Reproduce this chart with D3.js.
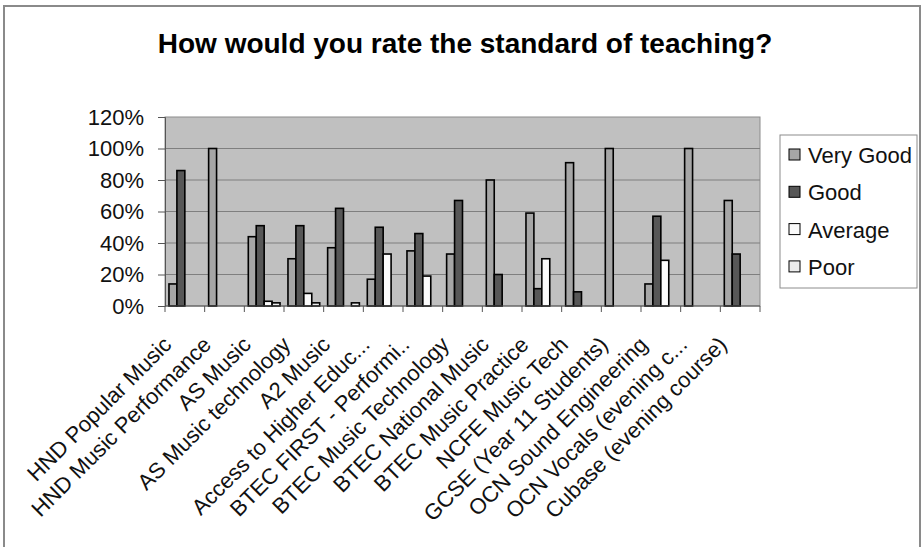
<!DOCTYPE html>
<html>
<head>
<meta charset="utf-8">
<script src="https://cdn.jsdelivr.net/npm/d3@7"></script>
<style>
  body { margin: 0; background: #fff; }
  svg { display: block; font-family: Arial, "Liberation Sans", sans-serif; }
</style>
</head>
<body>
<svg id="chart" width="924" height="547"></svg>
<script>
// categories (x axis) and the four rating series, in percent
const courses = [
  "HND Popular Music", "HND Music Performance", "AS Music", "AS Music technology",
  "A2 Music", "Access to Higher Educ...", "BTEC FIRST - Performi..", "BTEC Music Technology",
  "BTEC National Music", "BTEC Music Practice", "NCFE Music Tech", "GCSE (Year 11 Students)",
  "OCN Sound Engineering", "OCN Vocals (evening c...", "Cubase (evening course)"
];
const ratings = ["Very Good", "Good", "Average", "Poor"];
const veryGood = [14, 100, 44, 30, 37, 17, 35, 33, 80, 59, 91, 100, 14, 100, 67];
const good     = [86, 0, 51, 51, 62, 50, 46, 67, 20, 11, 9, 0, 57, 0, 33];
const average  = [0, 0, 3, 8, 0, 33, 19, 0, 0, 30, 0, 0, 29, 0, 0];
const poor     = [0, 0, 2, 2, 2, 0, 0, 0, 0, 0, 0, 0, 0, 0, 0];
const yTicks = [0, 20, 40, 60, 80, 100, 120];

const series = [veryGood, good, average, poor];
const colours = ["#a6a6a6", "#575757", "#fbfbfb", "#ececec"];

const svg = d3.select("#chart");
const plot = { left: 165, right: 760, top: 117, bottom: 306 };

// outer chart frame
svg.append("rect")
  .attr("x", 4).attr("y", 6).attr("width", 916).attr("height", 560)
  .attr("fill", "#fff").attr("stroke", "#8a8a8a").attr("stroke-width", 2);

svg.append("text")
  .attr("x", 465).attr("y", 53)
  .attr("text-anchor", "middle")
  .attr("font-size", 28).attr("font-weight", "bold")
  .text("How would you rate the standard of teaching?");

const x = d3.scaleBand().domain(courses).range([plot.left, plot.right]).paddingInner(0).paddingOuter(0);
// gap width 100%: half a bar of space on each side of a group
const xInner = d3.scaleBand().domain(ratings).range([0, x.bandwidth()]).paddingOuter(0.5);
const y = d3.scaleLinear().domain([0, 120]).range([plot.bottom, plot.top]);

svg.append("rect")
  .attr("x", plot.left).attr("y", plot.top)
  .attr("width", plot.right - plot.left).attr("height", plot.bottom - plot.top)
  .attr("fill", "#c0c0c0").attr("stroke", "#8c8c8c");

// gridlines
svg.append("g")
  .selectAll("line")
  .data(yTicks.filter(d => d > 0 && d < 120))
  .join("line")
  .attr("x1", plot.left).attr("x2", plot.right)
  .attr("y1", d => y(d)).attr("y2", d => y(d))
  .attr("stroke", "#7f7f7f");

// bars
const groups = svg.append("g")
  .selectAll("g")
  .data(courses)
  .join("g")
  .attr("transform", d => `translate(${x(d)},0)`);

groups.selectAll("rect")
  .data((d, i) => series.map((s, k) => ({ rating: ratings[k], value: s[i], k })).filter(b => b.value > 0))
  .join("rect")
  .attr("x", b => xInner(b.rating))
  .attr("width", xInner.bandwidth())
  .attr("y", b => y(b.value))
  .attr("height", b => y(0) - y(b.value))
  .attr("fill", b => colours[b.k])
  .attr("stroke", "#000")
  .attr("stroke-width", 1.6);

// y axis
const yAxis = svg.append("g")
  .attr("transform", `translate(${plot.left},0)`)
  .call(d3.axisLeft(y).tickValues(yTicks).tickFormat(d => d + "%").tickSize(7).tickPadding(14));
yAxis.select(".domain").attr("stroke", "#555");
yAxis.selectAll(".tick line").attr("stroke", "#555");
yAxis.selectAll("text").attr("font-size", 22).attr("font-family", "Arial, 'Liberation Sans', sans-serif").attr("fill", "#111");

// x axis line with ticks at category boundaries
svg.append("line")
  .attr("x1", plot.left).attr("x2", plot.right)
  .attr("y1", plot.bottom).attr("y2", plot.bottom)
  .attr("stroke", "#555");
svg.append("g")
  .selectAll("line")
  .data(courses.map(c => x(c)).concat([plot.right]))
  .join("line")
  .attr("x1", d => d).attr("x2", d => d)
  .attr("y1", plot.bottom).attr("y2", plot.bottom + 6)
  .attr("stroke", "#555");

// rotated category labels
svg.append("g")
  .selectAll("text")
  .data(courses)
  .join("text")
  .attr("text-anchor", "end")
  .attr("font-size", 22)
  .attr("fill", "#111")
  .attr("transform", d => `translate(${x(d) + x.bandwidth() / 2 - 12},${plot.bottom + 40}) rotate(-45)`)
  .text(d => d);

// legend
const legend = svg.append("g");
legend.append("rect")
  .attr("x", 780).attr("y", 135).attr("width", 137).attr("height", 153)
  .attr("fill", "#fff").attr("stroke", "#8c8c8c");
const items = legend.selectAll("g.item")
  .data(ratings)
  .join("g")
  .attr("class", "item")
  .attr("transform", (d, i) => `translate(789,${155 + i * 37.3})`);
items.append("rect")
  .attr("x", 0).attr("y", -6).attr("width", 11).attr("height", 11)
  .attr("fill", (d, i) => colours[i]).attr("stroke", "#000");
items.append("text")
  .attr("x", 19).attr("y", 8)
  .attr("font-size", 22).attr("fill", "#111")
  .text(d => d);
</script>
</body>
</html>
